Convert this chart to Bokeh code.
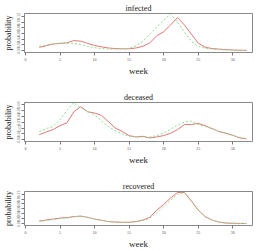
from bokeh.plotting import figure
from bokeh.layouts import column
from bokeh.models import FixedTicker, Range1d, PrintfTickFormatter
from bokeh.embed import file_html
from bokeh.resources import INLINE

weeks = list(range(2, 33))
x_ticks = [0, 5, 10, 15, 20, 25, 30]

infected_red = [0.011, 0.017, 0.023, 0.025, 0.027, 0.035, 0.033, 0.025, 0.018, 0.013,
                0.009, 0.007, 0.006, 0.006, 0.009, 0.015, 0.027, 0.052, 0.066, 0.090,
                0.116, 0.090, 0.058, 0.026, 0.012, 0.007, 0.005, 0.003, 0.002, 0.001, 0.0005]
infected_green = [0.015, 0.019, 0.024, 0.026, 0.026, 0.025, 0.021, 0.015, 0.010, 0.007,
                  0.005, 0.005, 0.006, 0.008, 0.016, 0.033, 0.058, 0.083, 0.107, 0.128,
                  0.100, 0.065, 0.033, 0.015, 0.008, 0.005, 0.003, 0.002, 0.001, 0.0008, 0.0005]

deceased_red = [0.0085, 0.013, 0.0174, 0.024, 0.029, 0.048, 0.057, 0.048, 0.046, 0.042,
                0.031, 0.020, 0.014, 0.0068, 0.0045, 0.0056, 0.0028, 0.0045, 0.0068, 0.011,
                0.017, 0.026, 0.026, 0.028, 0.024, 0.019, 0.014, 0.011, 0.0073, 0.0028, 0.0012]
deceased_green = [0.014, 0.019, 0.0225, 0.034, 0.051, 0.064, 0.055, 0.049, 0.043, 0.032,
                  0.0225, 0.015, 0.0096, 0.0056, 0.0045, 0.0045, 0.0045, 0.0068, 0.011, 0.018,
                  0.025, 0.030, 0.032, 0.026, 0.0225, 0.019, 0.014, 0.011, 0.0073, 0.004, 0.0015]

recovered_red = [0.011, 0.015, 0.019, 0.023, 0.025, 0.029, 0.031, 0.026, 0.019, 0.014,
                 0.009, 0.007, 0.006, 0.006, 0.009, 0.015, 0.026, 0.055, 0.078, 0.104,
                 0.126, 0.126, 0.092, 0.055, 0.029, 0.015, 0.007, 0.003, 0.002, 0.0015, 0.001]
recovered_green = [0.009, 0.013, 0.017, 0.021, 0.023, 0.028, 0.031, 0.026, 0.019, 0.014,
                   0.009, 0.007, 0.006, 0.006, 0.008, 0.013, 0.022, 0.045, 0.068, 0.095,
                   0.118, 0.128, 0.095, 0.056, 0.029, 0.015, 0.007, 0.003, 0.002, 0.0015, 0.001]

ticks_12 = [0.00, 0.02, 0.04, 0.06, 0.08, 0.10, 0.12]
ticks_06 = [0.00, 0.01, 0.02, 0.03, 0.04, 0.05, 0.06]

FONT = "Liberation Serif"
RED = "#e27777"
GREEN = "#8ce08c"


def panel(title, red, green, height, bottom, yr, yticks):
    p = figure(width=257, height=height, x_range=Range1d(-0.14, 32.86),
               y_range=Range1d(*yr), output_backend="svg", toolbar_location=None,
               min_border_left=21, min_border_right=5, min_border_top=12,
               min_border_bottom=bottom, title=title)
    p.title.text_font = FONT
    p.title.text_font_size = "8px"
    p.title.text_font_style = "normal"
    p.title.align = "center"
    p.title.standoff = 2
    p.title.text_color = "#222222"
    p.line(weeks, red, color=RED, line_width=1)
    p.line(weeks, green, color=GREEN, line_width=1, line_dash="2 2")
    p.xgrid.visible = False
    p.ygrid.visible = False
    p.outline_line_color = "#8a8a8a"
    p.outline_line_width = 1
    p.background_fill_color = "white"
    p.border_fill_color = "white"

    p.xaxis.ticker = FixedTicker(ticks=x_ticks)
    p.yaxis.ticker = FixedTicker(ticks=yticks)
    p.yaxis.formatter = PrintfTickFormatter(format="%.2f")
    for ax in (p.xaxis[0], p.yaxis[0]):
        ax.axis_line_color = None
        ax.major_tick_line_color = "#777777"
        ax.major_tick_out = 3
        ax.major_tick_in = 0
        ax.minor_tick_line_color = None
        ax.major_label_text_font = FONT
        ax.major_label_text_font_size = "4px"
        ax.major_label_text_color = "#555555"
        ax.major_label_standoff = 2
        ax.axis_label_text_font = FONT
        ax.axis_label_text_font_style = "normal"
        ax.axis_label_text_color = "#222222"
        ax.axis_label_standoff = 2
    p.xaxis.axis_label = "week"
    p.xaxis.axis_label_text_font_size = "9px"
    p.yaxis.axis_label = "probability"
    p.yaxis.axis_label_text_font_size = "8px"
    p.yaxis.major_label_orientation = "vertical"
    p.yaxis.major_label_standoff = 1
    p.yaxis.axis_label_standoff = 2
    return p


p1 = panel("infected", infected_red, infected_green, 89, 37, (-0.0069, 0.1303), ticks_12)
p2 = panel("deceased", deceased_red, deceased_green, 89, 37, (-0.0034, 0.0642), ticks_06)
p3 = panel("recovered", recovered_red, recovered_green, 73, 21, (-0.0069, 0.1303), ticks_12)

layout = column(p1, p2, p3, spacing=0)

open("out.html", "w").write(file_html(layout, INLINE))
